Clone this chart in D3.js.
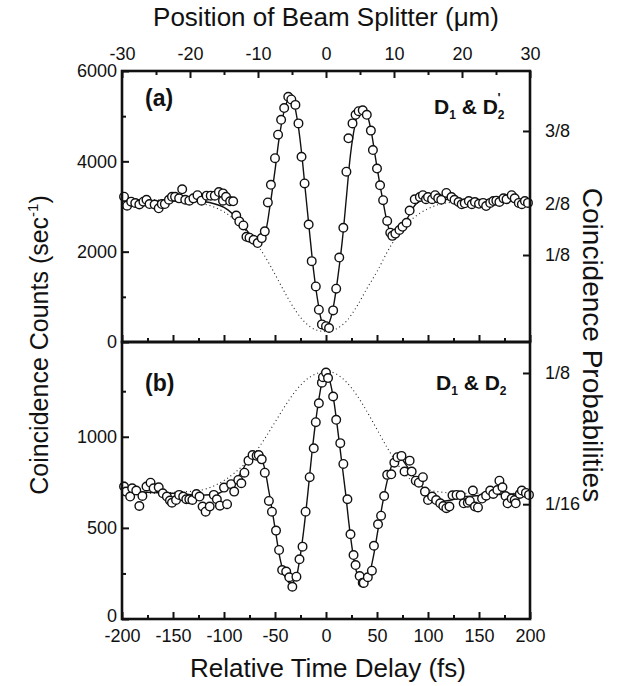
<!DOCTYPE html>
<html>
<head>
<meta charset="utf-8">
<script src="https://d3js.org/d3.v7.min.js"></script>
<style>
  body { margin: 0; background: #fff; }
  svg text { font-family: "Liberation Sans", Arial, Helvetica, sans-serif; fill: #111; }
  .tick text { font-size: 18px; }
  .tick line { stroke: #111; stroke-width: 2; }
</style>
</head>
<body>
<svg id="chart" width="624" height="686"></svg>
<script>
// ---- data ----
// panel (a): detectors D1 & D2'
const aDelay = [-198,-195,-191,-187,-183,-179,-176,-173,-168,-164,-161,-158,-154,-151,-148,-144,-141,-138,-134,-130,
  -126,-122,-117,-113,-109,-105,-101,-101,-98,-94,-91,-88,-85,-81,-78,-75,-71,-67,-63,-60,-57,-54,-50,-47,-44,-41,
  -37,-34,-30,-27,-24,-21,-17,-14,-10,-7,-4,0,3,7,10,13,17,20,22,26,29,32,36,40,44,46,50,53,56,60,63,65,68,72,75,79,
  82,87,92,95,98,100,104,107,110,113,118,123,126,130,133,136,140,143,146,150,154,157,161,164,167,170,174,177,182,185,
  189,192,195,198];
const aCounts = [3217,3018,3106,3077,3044,3106,3150,3054,3044,2960,3054,3054,3150,3216,3216,3180,3380,3150,3130,3180,
  3250,3130,3240,3240,3240,3320,3290,3130,3216,3115,3115,2800,2670,2580,2330,2310,2262,2190,2300,2450,3090,3480,4070,
  4590,4920,5180,5430,5370,5250,4840,4100,3510,2600,1790,1230,715,390,350,310,700,1180,1870,2530,3770,4510,4840,5030,
  5110,5130,5030,4680,4250,3840,3470,3140,2680,2420,2350,2400,2480,2550,2640,2910,3160,3210,3250,3160,3210,3160,3250,
  3180,3150,3300,3210,3150,3100,3050,3070,3120,3050,3100,3060,3080,3010,3080,3120,3130,3100,3180,3160,3250,3180,3080,
  3050,3120,3080];
const aFitDelay = [-200,-150,-120,-100,-90,-80,-72,-65,-60,-55,-50,-45,-40,-36,-32,-28,-24,-20,-16,-12,-8,-4,0,4,8,12,
  16,20,24,28,32,36,40,44,48,52,56,60,64,68,74,80,88,95,110,150,200];
const aFitCounts = [3120,3120,3110,2980,2800,2540,2330,2250,2400,3000,3800,4650,5200,5400,5300,4900,4200,3300,2400,1550,
  900,450,320,480,880,1500,2250,3200,4150,4750,5100,5180,5050,4700,4150,3600,3100,2650,2380,2380,2550,2750,3050,3150,
  3160,3140,3120];
const aEnvDelay = [-200,-175,-150,-125,-110,-100,-90,-80,-70,-60,-50,-40,-30,-20,-10,0,10,20,30,40,50,60,70,80,90,100,
  110,125,150,175,200];
const aEnvCounts = [3150,3148,3135,3080,2990,2880,2720,2500,2230,1900,1500,1080,700,420,270,230,290,460,780,1180,1560,
  1990,2360,2630,2820,2950,3040,3100,3140,3150,3150];

// panel (b): detectors D1 & D2
const bDelay = [-198,-196,-192,-190,-186,-183,-180,-176,-172,-169,-164,-160,-156,-153,-151,-147,-144,-140,-137,-134,
  -131,-127,-124,-121,-118,-114,-110,-107,-104,-100,-97,-93,-90,-86,-83,-80,-76,-72,-68,-66,-63,-60,-56,-53,-49,-46,
  -43,-39,-36,-33,-29,-26,-23,-20,-16,-12,-10,-7,-4,-3,0,2,7,10,14,17,21,24,27,29,33,36,37,41,45,47,51,54,57,60,64,67,
  70,74,77,82,84,88,91,95,97,100,104,108,112,115,118,121,124,128,132,135,139,141,144,146,149,153,157,161,164,168,170,
  173,176,178,182,185,186,190,192,196,199];
const bCounts = [727,699,672,717,705,620,675,727,748,717,723,690,672,650,638,653,681,672,657,657,653,686,672,617,589,
  617,681,657,622,721,630,740,699,763,745,803,869,900,896,900,876,803,648,589,485,379,269,260,229,177,232,328,397,589,
  778,937,1080,1184,1297,1327,1352,1322,1221,1093,965,851,657,465,351,296,236,199,198,229,265,402,520,567,675,791,794,
  858,888,895,809,869,809,759,748,778,699,653,672,653,635,620,608,617,679,681,679,635,638,648,705,617,612,661,677,705,
  686,708,759,723,675,635,661,653,635,686,705,692,681];
const bFitDelay = [-200,-150,-120,-105,-95,-85,-75,-68,-62,-56,-50,-45,-40,-35,-30,-26,-22,-18,-14,-10,-6,-2,0,3,7,11,
  15,19,23,27,31,36,41,46,51,56,61,66,72,78,85,92,100,110,120,135,160,200];
const bFitCounts = [700,690,680,690,730,790,880,905,860,700,500,330,230,195,220,320,480,680,900,1090,1240,1340,1350,
  1320,1220,1060,880,700,500,340,240,195,225,330,490,650,780,860,890,850,790,740,690,650,650,670,680,690];
const bEnvDelay = [-200,-175,-150,-125,-110,-100,-90,-80,-70,-60,-50,-40,-30,-20,-10,0,10,20,30,40,50,60,70,80,90,100,
  115,130,200];
const bEnvCounts = [690,690,695,705,730,760,800,850,910,990,1080,1170,1250,1310,1345,1360,1345,1300,1230,1140,1040,940,
  850,780,735,710,695,690,690];

// axis ticks
const delayTicks = [-200,-150,-100,-50,0,50,100,150,200];
const splitterTicks = [-30,-20,-10,0,10,20,30];
const aCountTicks = [0,2000,4000,6000];
const bCountTicks = [0,500,1000];
const aProbLabels = ["3/8","2/8","1/8"];
const aProbAt = [4672,3055,1926];
const bProbLabels = ["1/8","1/16"];
const bProbAt = [1350,630];

// ---- layout ----
const plotL = 122, plotR = 530, plotT = 71, plotMid = 342, plotB = 619;
const svg = d3.select("#chart");

const x = d3.scaleLinear().domain([-200, 200]).range([plotL, plotR]);
const xUm = d3.scaleLinear().domain([-30, 30]).range([plotL, plotR]);
const yA = d3.scaleLinear().domain([0, 6000]).range([plotMid, plotT]);
const yB = d3.scaleLinear().domain([0, 1520]).range([plotB, plotMid]);

const dash = d => (d < 0 ? "-" + Math.abs(d) : String(d));

function panel(y, y0, y1, delay, counts, fitD, fitC, envD, envC, leftTicks, minorLeft, probAt, probLabels, showBottomLabels) {
  const g = svg.append("g");

  // inward ticks
  const bx = g.append("g").attr("transform", `translate(0,${y0})`)
    .call(d3.axisBottom(x).tickValues(delayTicks).tickSize(-7).tickPadding(10)
      .tickFormat(showBottomLabels ? dash : ""));
  bx.select(".domain").remove();
  const bxm = g.append("g").attr("transform", `translate(0,${y0})`)
    .call(d3.axisBottom(x).tickValues(d3.range(-175, 200, 50)).tickSize(-4).tickFormat(""));
  bxm.select(".domain").remove();

  const ly = g.append("g").attr("transform", `translate(${plotL},0)`)
    .call(d3.axisLeft(y).tickValues(leftTicks).tickSize(-7).tickPadding(5).tickFormat(d3.format("d")));
  ly.select(".domain").remove();
  const lym = g.append("g").attr("transform", `translate(${plotL},0)`)
    .call(d3.axisLeft(y).tickValues(minorLeft).tickSize(-4).tickFormat(""));
  lym.select(".domain").remove();

  const ry = g.append("g").attr("transform", `translate(${plotR},0)`)
    .call(d3.axisRight(y).tickValues(probAt).tickSize(-7).tickPadding(15)
      .tickFormat((d, i) => probLabels[i]));
  ry.select(".domain").remove();

  // envelope (dotted)
  g.append("path")
    .datum(envD.map((d, i) => [d, envC[i]]))
    .attr("fill", "none").attr("stroke", "#222").attr("stroke-width", 1.1)
    .attr("stroke-dasharray", "1,3")
    .attr("d", d3.line().x(d => x(d[0])).y(d => y(d[1])).curve(d3.curveMonotoneX));

  // fit (solid)
  g.append("path")
    .datum(fitD.map((d, i) => [d, fitC[i]]))
    .attr("fill", "none").attr("stroke", "#111").attr("stroke-width", 1.4)
    .attr("d", d3.line().x(d => x(d[0])).y(d => y(d[1])).curve(d3.curveCatmullRom));

  // data
  g.selectAll("circle.pt")
    .data(delay.map((d, i) => [d, counts[i]]))
    .join("circle")
      .attr("class", "pt")
      .attr("cx", d => x(d[0]))
      .attr("cy", d => y(d[1]))
      .attr("r", 4.3)
      .attr("fill", "#fff")
      .attr("stroke", "#111")
      .attr("stroke-width", 1.4);

  // frame
  g.append("rect")
    .attr("x", plotL).attr("y", y1)
    .attr("width", plotR - plotL).attr("height", y0 - y1)
    .attr("fill", "none").attr("stroke", "#111").attr("stroke-width", 2.6);
  return ly;
}

panel(yA, plotMid, plotT, aDelay, aCounts, aFitDelay, aFitCounts, aEnvDelay, aEnvCounts,
  aCountTicks, [1000,3000,5000], aProbAt, aProbLabels, false);
const lyB = panel(yB, plotB, plotMid, bDelay, bCounts, bFitDelay, bFitCounts, bEnvDelay, bEnvCounts,
  bCountTicks, [250,750,1250], bProbAt, bProbLabels, true);
// lift the lowest "0" a touch so it clears the "-200" below it
lyB.selectAll(".tick text").filter(d => d === 0).attr("y", -3);

// top ticks of panel (a): beam splitter position
const tx = svg.append("g").attr("transform", `translate(0,${plotT})`)
  .call(d3.axisTop(xUm).tickValues(splitterTicks).tickSize(-7).tickPadding(11).tickFormat(dash));
tx.select(".domain").remove();
const txm = svg.append("g").attr("transform", `translate(0,${plotT})`)
  .call(d3.axisTop(xUm).tickValues(d3.range(-25, 30, 10)).tickSize(-4).tickFormat(""));
txm.select(".domain").remove();

// panel tags
svg.append("text").attr("x", 145).attr("y", 106)
  .style("font-size", "23px").style("font-weight", "bold").text("(a)");
svg.append("text").attr("x", 145).attr("y", 391)
  .style("font-size", "23px").style("font-weight", "bold").text("(b)");

function detLabel(xp, yp, prime) {
  const t = svg.append("text").attr("x", xp).attr("y", yp)
    .style("font-size", "21px").style("font-weight", "bold");
  t.append("tspan").text("D");
  t.append("tspan").attr("dy", 5).style("font-size", "12px").text("1");
  t.append("tspan").attr("dy", -5).text(" & D");
  t.append("tspan").attr("dy", 5).style("font-size", "12px").text("2");
  if (prime) t.append("tspan").attr("dx", -7).attr("dy", -17).style("font-size", "13px").text("'");
}
detLabel(434, 114, true);
detLabel(436, 390, false);

// axis titles
svg.append("text").attr("x", 326).attr("y", 26).attr("text-anchor", "middle")
  .style("font-size", "26px").text("Position of Beam Splitter (\u03bcm)");
svg.append("text").attr("x", 328).attr("y", 677).attr("text-anchor", "middle")
  .style("font-size", "26px").text("Relative Time Delay (fs)");

const yl = svg.append("text")
  .attr("transform", "translate(48,345) rotate(-90)")
  .attr("text-anchor", "middle").style("font-size", "25px");
yl.append("tspan").text("Coincidence Counts (sec");
yl.append("tspan").attr("dy", -10).style("font-size", "15px").text("-1");
yl.append("tspan").attr("dy", 10).text(")");

svg.append("text")
  .attr("transform", "translate(583,345) rotate(90)")
  .attr("text-anchor", "middle").style("font-size", "28px")
  .text("Coincidence Probabilities");
</script>
</body>
</html>
